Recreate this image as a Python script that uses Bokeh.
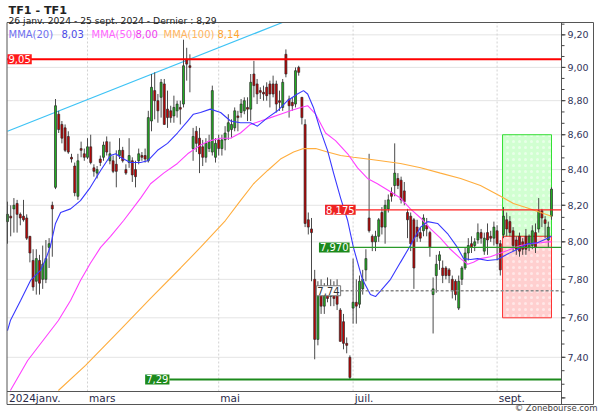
import math
import pandas as pd
from bokeh.plotting import figure
from bokeh.models import ColumnDataSource, Range1d, Label
from bokeh.embed import file_html
from bokeh.resources import INLINE
from bokeh.core.properties import value

# ---------------- data ----------------
title_text = "TF1 - TF1"
credit_text = "© Zonebourse.com"
holidays = ["2024-03-29", "2024-04-01", "2024-05-01"]
dates = [d for d in pd.bdate_range("2024-01-26", "2024-09-25")
         if d.strftime("%Y-%m-%d") not in holidays]

opens = [8.11, 8.14, 8.18, 8.21, 8.15, 8.14, 8.13, 8.03, 7.90, 7.79,
         7.90, 7.80, 7.80, 7.97, 8.20, 8.30, 8.72, 8.66, 8.64, 8.59,
         8.47, 8.42, 8.25, 8.52, 8.49, 8.47, 8.53, 8.41, 8.38, 8.46,
         8.47, 8.56, 8.45, 8.45, 8.43, 8.48, 8.51, 8.40, 8.44, 8.45,
         8.40, 8.45, 8.48, 8.48, 8.45, 8.68, 8.86, 8.80, 8.82, 8.90,
         8.75, 8.74, 8.71, 8.74, 8.76, 8.78, 9.05, 9.01, 8.52, 8.62,
         8.58, 8.53, 8.47, 8.52, 8.50, 8.47, 8.57, 8.52, 8.57, 8.62,
         8.63, 8.64, 8.71, 8.73, 8.74, 8.76, 8.75, 8.96, 8.90, 8.86,
         8.85, 8.88, 8.90, 8.90, 8.90, 8.80, 8.76, 9.08, 8.81, 8.79,
         8.78, 9.00, 8.82, 8.66, 8.12, 8.07, 7.80, 7.49, 7.72, 7.66,
         7.75, 7.71, 7.76, 7.72, 7.64, 7.58, 7.47, 7.40, 7.65, 7.68,
         7.67, 7.75, 7.85, 8.13, 8.03, 8.00, 8.03, 8.16, 8.08, 8.18,
         8.27, 8.31, 8.35, 8.34, 8.28, 8.16, 8.14, 8.12, 8.08, 8.05,
         8.06, 8.09, 8.05, 7.72, 7.82, 7.90, 7.86, 7.86, 7.85, 7.80,
         7.79, 7.65, 7.80, 7.86, 7.94, 7.99, 7.98, 8.01, 8.05, 7.95,
         8.05, 8.03, 8.02, 8.06, 7.99, 8.04, 8.12, 8.11, 8.06, 8.01,
         8.03, 8.00, 8.03, 7.97, 7.98, 8.05, 8.07, 8.17, 8.12, 8.01,
         8.14]
highs = [8.22, 8.20, 8.24, 8.23, 8.16, 8.23, 8.15, 8.03, 7.96, 7.96,
         7.93, 7.98, 8.01, 8.02, 8.22, 8.81, 8.74, 8.68, 8.66, 8.62,
         8.49, 8.44, 8.49, 8.56, 8.52, 8.58, 8.60, 8.43, 8.42, 8.48,
         8.56, 8.59, 8.56, 8.48, 8.51, 8.58, 8.53, 8.43, 8.58, 8.47,
         8.45, 8.52, 8.50, 8.52, 8.74, 8.96, 8.97, 8.84, 8.93, 8.93,
         8.86, 8.77, 8.83, 8.80, 8.80, 9.17, 9.12, 9.08, 8.64, 8.65,
         8.64, 8.57, 8.58, 8.60, 8.89, 8.58, 8.60, 8.60, 8.65, 8.72,
         8.69, 8.76, 8.74, 8.81, 8.82, 8.82, 8.96, 9.04, 8.93, 8.88,
         8.89, 8.91, 8.92, 8.95, 8.92, 8.86, 8.93, 9.11, 8.83, 8.82,
         9.00, 9.01, 8.82, 8.69, 8.16, 8.13, 7.85, 7.79, 7.80, 7.78,
         7.81, 7.80, 7.79, 7.80, 7.65, 7.62, 7.50, 7.41, 7.91, 7.80,
         7.82, 7.85, 7.96, 8.49, 8.04, 8.06, 8.13, 8.19, 8.23, 8.26,
         8.30, 8.55, 8.38, 8.36, 8.33, 8.18, 8.16, 8.13, 8.12, 8.08,
         8.15, 8.13, 8.06, 7.81, 7.93, 7.95, 7.90, 7.87, 7.86, 7.82,
         7.80, 7.82, 7.87, 7.97, 8.02, 8.03, 8.02, 8.10, 8.07, 8.05,
         8.10, 8.06, 8.11, 8.09, 8.01, 8.19, 8.16, 8.14, 8.08, 8.03,
         8.05, 8.02, 8.07, 8.04, 8.09, 8.10, 8.24, 8.18, 8.14, 8.11,
         8.30]
lows = [7.99, 8.03, 8.05, 8.05, 8.09, 8.11, 8.01, 7.89, 7.74, 7.72,
        7.72, 7.75, 7.78, 7.86, 7.92, 8.29, 8.61, 8.55, 8.50, 8.49,
        8.44, 8.25, 8.23, 8.47, 8.45, 8.46, 8.43, 8.36, 8.35, 8.42,
        8.45, 8.48, 8.43, 8.38, 8.30, 8.46, 8.44, 8.37, 8.41, 8.33,
        8.30, 8.43, 8.45, 8.44, 8.44, 8.62, 8.69, 8.67, 8.70, 8.66,
        8.64, 8.67, 8.67, 8.70, 8.66, 8.76, 8.92, 8.85, 8.45, 8.50,
        8.38, 8.42, 8.44, 8.50, 8.48, 8.44, 8.48, 8.48, 8.51, 8.57,
        8.58, 8.62, 8.62, 8.70, 8.72, 8.68, 8.68, 8.82, 8.78, 8.81,
        8.80, 8.80, 8.76, 8.82, 8.73, 8.74, 8.74, 8.94, 8.70, 8.74,
        8.76, 8.95, 8.66, 8.08, 8.04, 7.79, 7.39, 7.46, 7.62, 7.62,
        7.68, 7.66, 7.66, 7.64, 7.48, 7.44, 7.42, 7.29, 7.57, 7.57,
        7.65, 7.72, 7.79, 8.05, 7.95, 7.95, 8.00, 8.04, 7.99, 8.16,
        8.22, 8.25, 8.29, 8.21, 8.20, 8.02, 7.95, 7.75, 8.00, 8.00,
        8.03, 8.03, 7.92, 7.52, 7.73, 7.85, 7.78, 7.80, 7.78, 7.70,
        7.69, 7.64, 7.77, 7.85, 7.90, 7.94, 7.95, 7.99, 7.99, 7.93,
        7.93, 8.00, 7.98, 7.90, 7.82, 8.02, 8.03, 8.03, 7.95, 7.93,
        7.92, 7.93, 7.93, 7.95, 7.96, 7.94, 8.05, 8.08, 8.02, 7.97,
        8.12]
closes = [8.15, 8.13, 8.20, 8.15, 8.13, 8.12, 8.02, 7.94, 7.76, 7.91,
          7.78, 7.88, 7.91, 7.99, 8.18, 8.77, 8.63, 8.58, 8.51, 8.50,
          8.46, 8.27, 8.45, 8.51, 8.47, 8.53, 8.44, 8.39, 8.40, 8.44,
          8.54, 8.50, 8.49, 8.39, 8.39, 8.51, 8.45, 8.38, 8.48, 8.37,
          8.36, 8.49, 8.47, 8.46, 8.70, 8.88, 8.80, 8.74, 8.91, 8.66,
          8.70, 8.70, 8.76, 8.78, 8.75, 9.01, 9.02, 9.00, 8.59, 8.55,
          8.49, 8.47, 8.55, 8.56, 8.86, 8.55, 8.52, 8.57, 8.61, 8.67,
          8.66, 8.74, 8.70, 8.78, 8.80, 8.75, 8.91, 8.89, 8.84, 8.85,
          8.84, 8.83, 8.84, 8.84, 8.78, 8.79, 8.91, 8.96, 8.77, 8.77,
          8.98, 8.97, 8.70, 8.10, 8.08, 8.05, 7.49, 7.72, 7.66, 7.75,
          7.70, 7.76, 7.70, 7.67, 7.48, 7.47, 7.46, 7.30, 7.68, 7.66,
          7.79, 7.80, 7.91, 8.06, 8.00, 8.03, 8.12, 8.08, 8.20, 8.23,
          8.25, 8.38, 8.31, 8.23, 8.22, 8.12, 7.99, 7.86, 8.03, 8.02,
          8.13, 8.07, 7.97, 7.75, 7.88, 7.93, 7.82, 7.82, 7.82, 7.74,
          7.72, 7.79, 7.86, 7.94, 7.98, 7.97, 8.00, 8.05, 8.02, 8.02,
          8.01, 8.02, 8.08, 7.99, 7.85, 8.14, 8.07, 8.05, 7.98, 7.96,
          7.95, 7.96, 7.96, 8.03, 8.06, 7.97, 8.17, 8.13, 8.10, 8.08,
          8.29]

# moving averages (bar index, value)
ma20_x = [0, 0.9, 4.1, 7.2, 10.3, 11.9, 13.4, 15.0, 16.6, 19.7, 22.8, 25.9, 29.1,
          32.2, 33.8, 35.3, 38.4, 41.6, 43.8, 46.9, 50.0, 53.1, 56.3, 58.1, 60.3,
          63.4, 66.6, 69.7, 72.8, 75.9, 78.1, 81.3, 84.4, 87.5, 90.6, 92.5, 93.8,
          95.6, 97.8, 100.0, 101.9, 104.1, 106.3, 108.1, 110.9, 113.4, 115.0,
          116.6, 119.7, 122.8, 125.9, 129.1, 131.3, 134.4, 137.5, 140.6, 142.5,
          144.7, 146.9, 150.0, 153.1, 156.3, 159.4, 162.5, 165.6, 168.8, 170]
ma20_y = [7.535, 7.586, 7.689, 7.794, 7.847, 7.905, 7.975, 8.10, 8.16, 8.18, 8.226,
          8.30, 8.395, 8.48, 8.49, 8.47, 8.44, 8.44, 8.45, 8.51, 8.55, 8.61, 8.68,
          8.72, 8.73, 8.75, 8.73, 8.68, 8.67, 8.67, 8.65, 8.70, 8.74, 8.80, 8.84,
          8.86, 8.84, 8.76, 8.625, 8.51, 8.38, 8.24, 8.116, 7.97, 7.80, 7.72, 7.71,
          7.74, 7.80, 7.89, 7.98, 8.08, 8.11, 8.10, 8.045, 7.97, 7.91, 7.905, 7.91,
          7.90, 7.905, 7.935, 7.96, 7.99, 7.995, 8.02, 8.03]
ma50_x = [0.9, 6.3, 15.9, 19.7, 22.8, 25.9, 29.1, 32.2, 36.3, 41.6, 44.7, 48.8,
          53.1, 56.3, 60.3, 63.4, 66.6, 69.7, 72.8, 75.9, 79.1, 82.2, 85.3, 88.4,
          91.6, 93.8, 96.3, 99.4, 102.5, 106.3, 109.4, 112.5, 115.6, 118.8, 122.8,
          125.9, 129.1, 132.2, 135.3, 138.4, 141.6, 143.8, 145.6, 147.8, 150.9,
          154.1, 157.2, 160.3, 163.4, 166.6, 168.8, 170]
ma50_y = [7.236, 7.384, 7.586, 7.689, 7.794, 7.885, 7.97, 8.03, 8.116, 8.24, 8.32,
          8.38, 8.435, 8.49, 8.54, 8.566, 8.58, 8.58, 8.61, 8.66, 8.68, 8.70, 8.72,
          8.74, 8.76, 8.77, 8.72, 8.61, 8.566, 8.49, 8.41, 8.35, 8.32, 8.285, 8.24,
          8.18, 8.13, 8.07, 8.02, 7.96, 7.91, 7.88, 7.89, 7.91, 7.92, 7.94, 7.96,
          7.98, 7.99, 7.995, 8.00, 8.00]
ma100_x = [15.9, 24.4, 35.3, 44.7, 54.1, 60.3, 68.1, 72.8, 76.9, 81.3, 85.3, 89.4,
           92.5, 94.7, 96.3, 100.0, 104.1, 108.1, 112.5, 116.6, 122.8, 129.1,
           135.3, 141.6, 147.8, 154.1, 158.1, 162.5, 166.6, 170]
ma100_y = [7.236, 7.36, 7.54, 7.70, 7.86, 7.97, 8.116, 8.226, 8.32, 8.395, 8.46,
           8.50, 8.52, 8.52, 8.52, 8.50, 8.48, 8.47, 8.46, 8.45, 8.435, 8.41, 8.38,
           8.35, 8.31, 8.25, 8.21, 8.185, 8.16, 8.14]

trend_x = [0, 85.9]
trend_y = [8.62, 9.277]

level_values = [9.05, 8.175, 7.97, 7.74, 7.29]
level_texts = ["9,05", "8,175", "7,970", "7,74", "7,29"]
level_starts = [0.0, 108.8, 106.9, 104.1, 50.6]

zone_left, zone_right = 154.7, 170.0
zone_top, zone_mid, zone_bottom = 8.60, 8.03, 7.60

tick_values = [7.2, 7.4, 7.6, 7.8, 8.0, 8.2, 8.4, 8.6, 8.8, 9.0, 9.2]
minor_values = [7.2 + k * 0.2 / 3 for k in range(32)]

month_numbers = [1, 3, 5, 7, 9]
month_texts = ["2024janv.", "mars", "mai", "juil.", "sept."]
fr_months = ["janv.", "févr.", "mars", "avr.", "mai", "juin", "juil.", "août",
             "sept.", "oct.", "nov.", "déc."]

# ---------------- layout helpers (pixel -> data) ----------------
FONT = "DejaVu Sans"
W, H = 600, 413
PX0, PXS = 7.0, 3.2                  # pixel of bar 0, pixels per bar
PY_REF, P_REF, PY_PER_LN = 58.7, 9.05, 1481.0


def bx(px):
    return (px - PX0) / PXS


def bp(py):
    return P_REF * math.exp(-(py - PY_REF) / PY_PER_LN)


BOX_L, BOX_R, AXIS_X, BOX_T, BOX_B, BAND_T = 6.5, 593, 561, 22, 404, 391

p = figure(width=W, height=H, x_range=Range1d(bx(0), bx(W)), y_range=Range1d(bp(H), bp(0)),
           y_axis_type="log", x_axis_location=None, y_axis_location=None,
           output_backend="svg", toolbar_location=None,
           min_border_left=0, min_border_right=0, min_border_top=0, min_border_bottom=0,
           background_fill_color="white", border_fill_color="white")
p.outline_line_color = None
p.xgrid.visible = False
p.ygrid.visible = False

n = len(dates)
idx = list(range(n))
month_first = [next(i for i, d in enumerate(dates) if d.month == m) for m in month_numbers]
grid_idx = month_first[1:]

# horizontal grid
g_ticks = tick_values[1:]
p.segment(x0=[bx(BOX_L)] * len(g_ticks), x1=[bx(AXIS_X)] * len(g_ticks), y0=g_ticks,
          y1=g_ticks, line_color="#e4e4e4", line_width=1)
# month gridlines (stop at the date band)
p.segment(x0=grid_idx, x1=grid_idx, y0=[bp(BAND_T)] * len(grid_idx),
          y1=[bp(BOX_T)] * len(grid_idx), line_color="#d2d2d2", line_dash="2 2",
          line_width=1)

# zones
p.quad(left=[zone_left, zone_left], right=[zone_right, zone_right],
       bottom=[zone_mid, zone_bottom], top=[zone_top, zone_mid],
       fill_color=["#ccffcc", "#ffcaca"], fill_alpha=0.9,
       line_color=["#33e033", "#ff3333"], line_width=1,
       hatch_pattern="dot", hatch_color="white", hatch_alpha=0.5, hatch_scale=6)

# trend line
p.line(trend_x, trend_y, line_color="#3ec3f5", line_width=1.2)

# candles
up = [c >= o for o, c in zip(opens, closes)]
src = ColumnDataSource(dict(
    x=idx, o=opens, h=highs, l=lows, c=closes,
    top=[max(o, c) for o, c in zip(opens, closes)],
    bottom=[min(o, c) for o, c in zip(opens, closes)],
    color=["#22b022" if u else "#c40000" for u in up]))
p.segment(x0="x", x1="x", y0="l", y1="h", line_color="#4a4a4a", line_width=1, source=src)
p.vbar(x="x", width=0.62, top="top", bottom="bottom", fill_color="color",
       line_color="#2a2a2a", line_width=0.7, source=src)

# moving averages
p.line(ma100_x, ma100_y, line_color="#ffad3d", line_width=1.1)
p.line(ma50_x, ma50_y, line_color="#ff40ff", line_width=1.1)
p.line(ma20_x, ma20_y, line_color="#3838ff", line_width=1.1)

# horizontal levels
lv_styles = [
    dict(color="#ff0000", width=2, dash="solid", bg="#ff1a1a", fg="white", border=None),
    dict(color="#ff2020", width=1.3, dash="solid", bg="#ee2222", fg="white", border=None),
    dict(color="#2a9a2a", width=1.3, dash="solid", bg="#1c8a1c", fg="white", border=None),
    dict(color="#888888", width=1.3, dash="3 2", bg="white", fg="#333333", border="#777777"),
    dict(color="#1c8a1c", width=2, dash="solid", bg="#1c8a1c", fg="white", border=None),
]
for k, (lv, txt, st, s) in enumerate(zip(level_values, level_texts, level_starts, lv_styles)):
    start = bx(BOX_L) if k == 0 else st
    p.segment(x0=[start], x1=[bx(AXIS_X)], y0=[lv], y1=[lv], line_color=s["color"],
              line_width=s["width"], line_dash=s["dash"])
    p.add_layout(Label(x=st, y=lv, text=txt, text_align="left" if k == 0 else "right",
                       text_baseline="middle", text_font=FONT, text_font_size="10px",
                       text_color=s["fg"], background_fill_color=s["bg"],
                       border_line_color=s["border"], padding=1))

# frame, price axis and date band
p.quad(left=[bx(BOX_L)], right=[bx(BOX_R)], bottom=[bp(BOX_B)], top=[bp(BOX_T)],
       fill_color=None, line_color="#555555", line_width=1)
p.segment(x0=[bx(AXIS_X)], x1=[bx(AXIS_X)], y0=[bp(BOX_B)], y1=[bp(BOX_T)],
          line_color="#555555", line_width=1)
p.segment(x0=[bx(BOX_L)], x1=[bx(AXIS_X)], y0=[bp(BAND_T)], y1=[bp(BAND_T)],
          line_color="#555555", line_width=1)
p.segment(x0=[bx(AXIS_X)] * len(minor_values), x1=[bx(AXIS_X + 3)] * len(minor_values),
          y0=minor_values, y1=minor_values, line_color="#444444", line_width=1)
p.segment(x0=[bx(AXIS_X)] * len(tick_values), x1=[bx(AXIS_X + 4)] * len(tick_values),
          y0=tick_values, y1=tick_values, line_color="#444444", line_width=1)
lab_ticks = tick_values[1:]
p.text(x=[bx(AXIS_X + 6)] * len(lab_ticks), y=lab_ticks,
       text=[f"{v:.2f}".replace(".", ",") for v in lab_ticks],
       text_font=value(FONT), text_font_size="9.5px", text_color="#30345a",
       text_baseline="middle", text_align="left")
p.text(x=[i + 0.5 for i in month_first], y=[bp((BAND_T + BOX_B) / 2)] * len(month_first),
       text=month_texts, text_font=value(FONT), text_font_size="10.5px",
       text_color="#2a2a48", text_baseline="middle", text_align="left")


# titles, legend, credit
def fmt(v):
    return f"{v:.2f}".replace(".", ",")


def fr_date(d):
    return f"{d.day} {fr_months[d.month - 1]} {d.year}"


subtitle = f"{fr_date(dates[0])} - {fr_date(dates[-1])} - Dernier : {fmt(closes[-1])}"
p.add_layout(Label(x=8, y=10.2, x_units="canvas", y_units="canvas", text=title_text,
                   text_font=FONT, text_font_size="11.2px", text_font_style="bold",
                   text_color="#222222", text_baseline="alphabetic"))
p.add_layout(Label(x=8, y=19.6, x_units="canvas", y_units="canvas", text=subtitle,
                   text_font=FONT, text_font_size="9.2px", text_color="#222222",
                   text_baseline="alphabetic"))

legend_items = [("MMA(20)", fmt(ma20_y[-1]), "#7070f0", "#4a4ae6", 8, 61),
                ("MMA(50)", fmt(ma50_y[-1]), "#ff66ff", "#f03cf0", 91, 135),
                ("MMA(100)", fmt(ma100_y[-1]), "#ffb560", "#ffa530", 163, 217)]
for name, val, c1, c2, xa, xb in legend_items:
    p.add_layout(Label(x=xa, y=33.5, x_units="canvas", y_units="canvas", text=name,
                       text_font=FONT, text_font_size="10px", text_color=c1,
                       text_baseline="alphabetic"))
    p.add_layout(Label(x=xb, y=33.5, x_units="canvas", y_units="canvas", text=val,
                       text_font=FONT, text_font_size="10px", text_color=c2,
                       text_baseline="alphabetic"))

p.add_layout(Label(x=597, y=412, x_units="canvas", y_units="canvas",
                   text=credit_text, text_font=FONT, text_font_size="8.5px",
                   text_color="#444444", text_align="right", text_baseline="bottom"))

open("out.html", "w").write(file_html(p, INLINE))
